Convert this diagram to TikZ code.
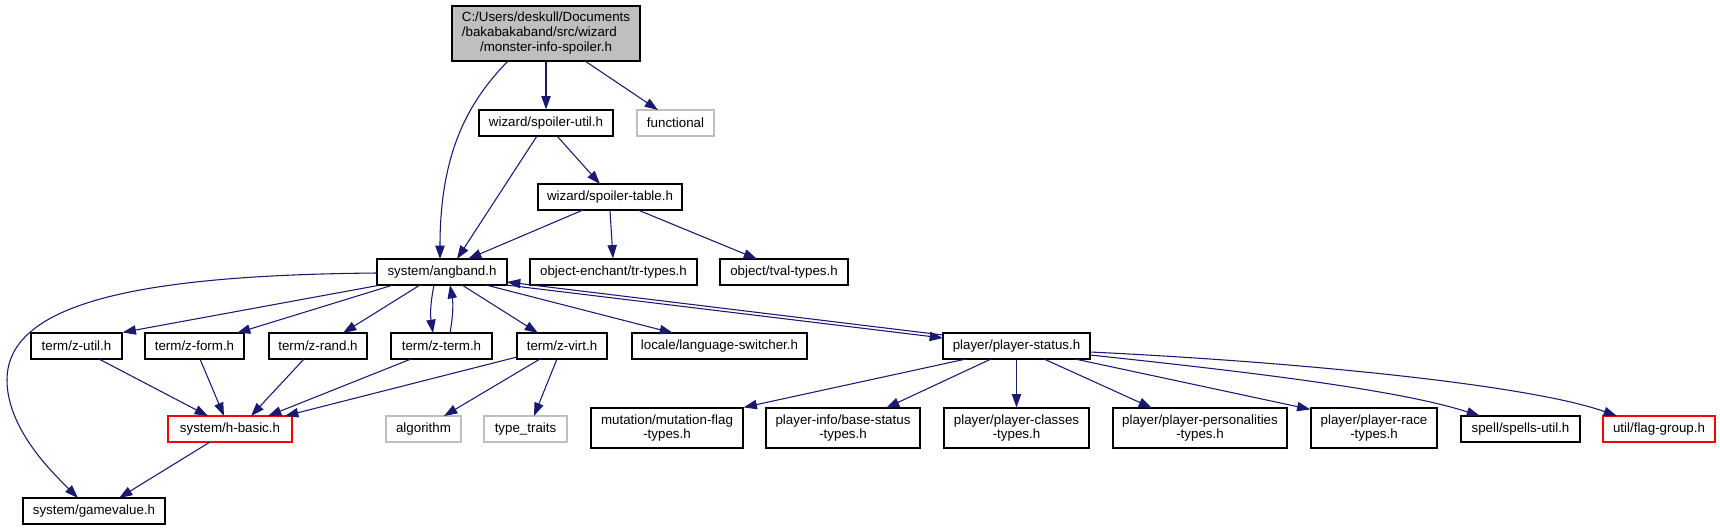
\documentclass[tikz,border=0pt]{standalone}
\usepackage{fontspec}
\setmainfont{Liberation Sans}
\usetikzlibrary{arrows.meta,calc}
\definecolor{edgec}{HTML}{191970}
\definecolor{grayb}{HTML}{BFBFBF}
\tikzset{
  box/.style={draw=black, line width=0.9pt, fill=white, inner sep=0pt, text=black,
    font=\fontsize{10}{10.7}\selectfont, align=center},
  graybox/.style={draw=grayb},
  redbox/.style={draw=red},
  mainbox/.style={fill=grayb},
  edge/.style={draw=edgec, line width=0.8pt, -{Triangle[length=10pt,width=7pt]}}
}
\newcommand\gnode[7][]{%
  \node[box,#1,minimum width={(#5-#3)*0.75pt},minimum height={(#6-#4)*0.75pt}]
    (#2) at ({(#3+#5)/2},{(#4+#6)/2}) {#7};}
\begin{document}
\begin{tikzpicture}[x=0.75pt,y=-0.75pt]
\useasboundingbox (0,0) rectangle (1720,529);
\fill[white] (0,0) rectangle (1720,529);
% nodes
\gnode[mainbox]{main}{452}{6}{640}{61}{\fontsize{10}{11.25}\selectfont\begin{tabular}{@{}l@{}}C:/Users/deskull/Documents\\/bakabakaband/src/wizard\\\multicolumn{1}{@{}c@{}}{/monster-info-spoiler.h}\end{tabular}}
\gnode{sutil}{479}{110}{613}{136}{wizard/spoiler-util.h}
\gnode[graybox]{func}{637}{110}{714}{136}{functional}
\gnode{stable}{538}{184}{682}{210}{wizard/spoiler-table.h}
\gnode{angband}{377}{259}{507}{285}{system/angband.h}
\gnode{trtypes}{530}{259}{697}{285}{object-enchant/tr-types.h}
\gnode{tval}{720}{259}{848}{285}{object/tval-types.h}
\gnode{zutil}{31}{333}{122}{359}{term/z-util.h}
\gnode{zform}{145}{333}{244}{359}{term/z-form.h}
\gnode{zrand}{269}{333}{367}{359}{term/z-rand.h}
\gnode{zterm}{391}{333}{492}{359}{term/z-term.h}
\gnode{zvirt}{517}{333}{607}{359}{term/z-virt.h}
\gnode{lang}{632}{333}{807}{359}{locale/language-switcher.h}
\gnode{pstatus}{943}{333}{1090}{359}{player/player-status.h}
\gnode[redbox]{hbasic}{168}{416}{292}{442}{system/h-basic.h}
\gnode[graybox]{algo}{386}{416}{461}{442}{algorithm}
\gnode[graybox]{ttraits}{484}{416}{567}{442}{type\_traits}
\gnode{mutation}{591}{408}{743}{448}{mutation/mutation-flag\\-types.h}
\gnode{basest}{766}{408}{920}{448}{player-info/base-status\\-types.h}
\gnode{classes}{944}{408}{1089}{448}{player/player-classes\\-types.h}
\gnode{person}{1113}{408}{1287}{448}{player/player-personalities\\-types.h}
\gnode{race}{1311}{408}{1437}{448}{player/player-race\\-types.h}
\gnode{spells}{1461}{416}{1580}{442}{spell/spells-util.h}
\gnode[redbox]{flag}{1603}{416}{1715}{442}{util/flag-group.h}
\gnode{gamev}{23}{498}{165}{524}{system/gamevalue.h}
% edges
\draw[edge] ($(main)+(-38,27.5)$) .. controls +(-38,39) and +(0,-109) .. ($(angband)+(-2,-13)$);
\draw[edge] (main.south) -- (sutil.north);
\draw[edge] ($(main)+(39,27.5)$) -- ($(func)+(-17.5,-13)$);
\draw[edge] ($(sutil)+(-9,13)$) -- ($(angband)+(15,-13)$);
\draw[edge] ($(sutil)+(11,13)$) -- ($(stable)+(-10,-13)$);
\draw[edge] ($(stable)+(-27,13)$) -- ($(angband)+(26,-13)$);
\draw[edge] (stable.south) -- ($(trtypes.north)+(-0.5,0)$);
\draw[edge] ($(stable)+(28,13)$) -- ($(tval)+(-27,-13)$);
\draw[edge] ($(angband)+(-65,1)$) .. controls (150,275) and (7,300) .. (7,380)
   .. controls (7,430) and (55,475) .. ($(gamev)+(-16,-13)$);
\draw[edge] ($(angband.south west)+(1,0)$) -- (zutil.north east);
\draw[edge] ($(angband)+(-49,13)$) -- ($(zform)+(42.5,-13)$);
\draw[edge] ($(angband)+(-22,13)$) -- ($(zrand)+(25,-13)$);
\draw[edge] ($(angband)+(-8,13)$) to[bend right=10] ($(zterm)+(-8.5,-13)$);
\draw[edge] ($(zterm)+(8.5,-13)$) to[bend right=10] ($(angband)+(8,13)$);
\draw[edge] ($(angband)+(20,13)$) -- ($(zvirt)+(-24,-13)$);
\draw[edge] ($(angband)+(44,13)$) -- ($(lang)+(-46.5,-13)$);
\draw[edge] ($(angband)+(64,13)$) -- ($(pstatus)+(-73.5,-8)$);
\draw[edge] ($(pstatus)+(-73.5,-11)$) -- ($(angband)+(65,10)$);
\draw[edge] ($(zutil)+(22.5,13)$) -- ($(hbasic)+(-22,-13)$);
\draw[edge] ($(zform)+(5.5,13)$) -- ($(hbasic)+(-6,-13)$);
\draw[edge] ($(zrand)+(-14,13)$) -- ($(hbasic)+(21,-13)$);
\draw[edge] ($(zterm)+(-30.5,13)$) -- ($(hbasic)+(38,-13)$);
\draw[edge] ($(zvirt)+(-45,11)$) -- ($(hbasic)+(55,-13)$);
\draw[edge] ($(zvirt)+(-22,13)$) -- ($(algo)+(20.5,-13)$);
\draw[edge] ($(zvirt)+(-5,13)$) -- ($(ttraits)+(8.5,-13)$);
\draw[edge] ($(hbasic)+(-20,13)$) -- ($(gamev)+(25,-13)$);
\draw[edge] ($(pstatus)+(-50.5,13)$) -- (mutation.north east);
\draw[edge] ($(pstatus)+(-25.5,13)$) -- ($(basest)+(43,-20)$);
\draw[edge] (pstatus.south) -- (classes.north);
\draw[edge] ($(pstatus)+(27.5,13)$) -- ($(person)+(-48,-20)$);
\draw[edge] ($(pstatus)+(58.5,13)$) -- ($(race.north west)+(0,2)$);
\draw[edge] ($(pstatus)+(73.5,9)$) .. controls +(160,17) and +(-80,-26) .. ($(spells)+(-40.5,-13)$);
\draw[edge] ($(pstatus)+(73.5,6)$) .. controls +(210,10) and +(-87,-31) .. ($(flag)+(-42,-13)$);
\end{tikzpicture}
\end{document}
